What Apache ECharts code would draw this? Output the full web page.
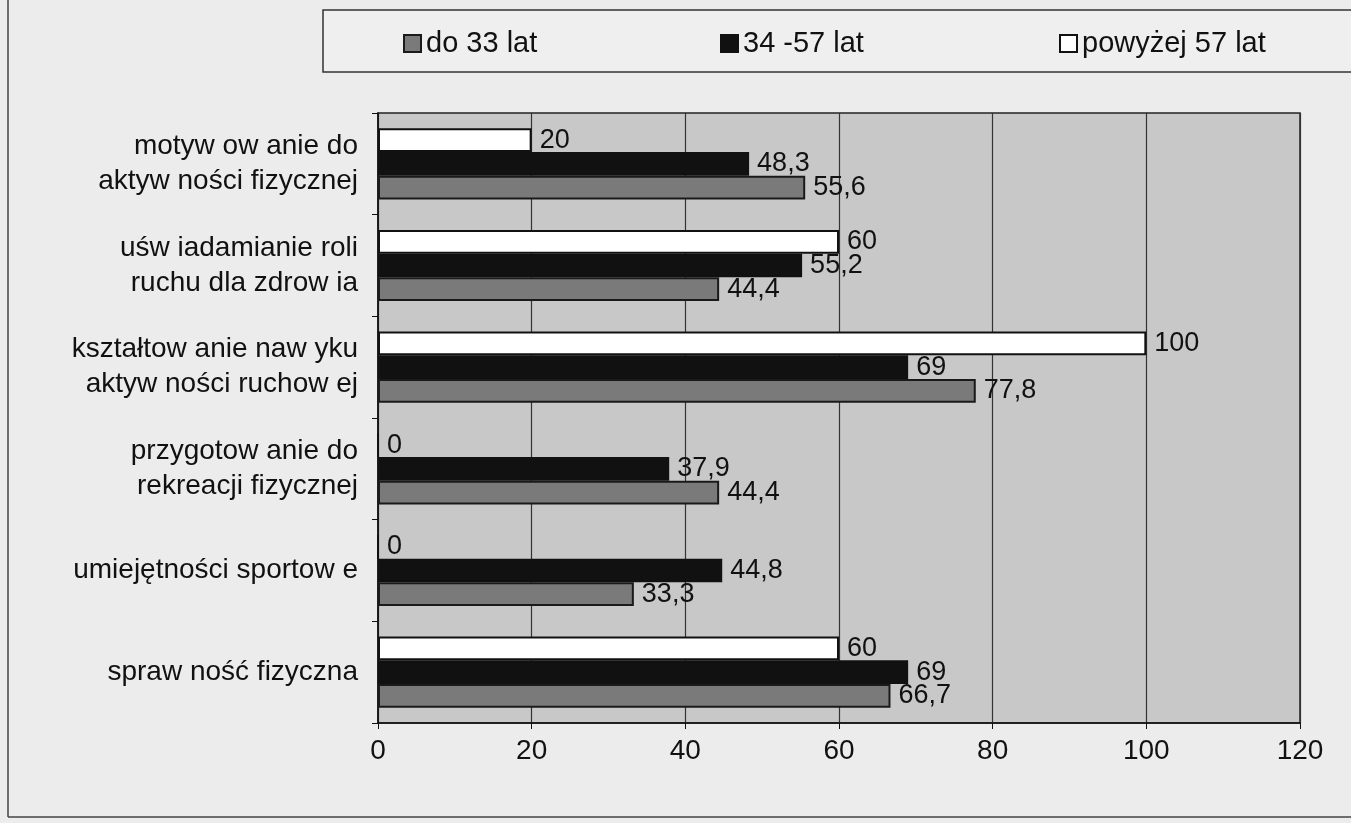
<!DOCTYPE html>
<html><head><meta charset="utf-8">
<script src="https://cdn.jsdelivr.net/npm/echarts@6/dist/echarts.min.js"></script>
<style>html,body{margin:0;padding:0;background:#ececec;}#c{width:1351px;height:823px;}</style>
</head><body><div id="c"></div>
<script>
const categories = ["motyw ow anie do\naktyw ności fizycznej","uśw iadamianie roli\nruchu dla zdrow ia","kształtow anie naw yku\naktyw ności ruchow ej","przygotow anie do\nrekreacji fizycznej","umiejętności sportow e","spraw ność fizyczna"];
const seriesNames = ["powyżej 57 lat","34 -57 lat","do 33 lat"];
const over57 = [20,60,100,0,0,60];
const age34to57 = [48.3,55.2,69,37.9,44.8,69];
const upto33 = [55.6,44.4,77.8,44.4,33.3,66.7];
const xTicks = [0,20,40,60,80,100,120];

const font = '"Liberation Sans", Arial, sans-serif';
const chart = echarts.init(document.getElementById('c'));
const lbl = {show:true, position:'right', distance:8, color:'#111', fontFamily:font, fontSize:27,
  formatter: p => String(p.value).replace('.', ',')};
function mk(name, data, color, border){
  return {name, type:'bar', data, barGap:'0%', barCategoryGap:'30%',
    itemStyle:{color, borderColor:border, borderWidth:2}, label:lbl, animation:false};
}
const legendBase = {top:24, itemWidth:17, itemHeight:17, textStyle:{fontFamily:font, fontSize:29, color:'#111'}, itemGap:4, selectedMode:false};
chart.setOption({
  backgroundColor:'#ececec',
  animation:false,
  graphic:[
    {type:'rect', shape:{x:323, y:10, width:1040, height:62}, style:{fill:'#efefef', stroke:'#333', lineWidth:1.5}},
    {type:'line', shape:{x1:8, y1:0, x2:8, y2:817}, style:{stroke:'#444', lineWidth:1.5}},
    {type:'line', shape:{x1:8, y1:817, x2:1351, y2:817}, style:{stroke:'#444', lineWidth:1.5}}
  ],
  legend:[
    Object.assign({}, legendBase, {left:398, data:[{name:'do 33 lat', icon:'rect'}]}),
    Object.assign({}, legendBase, {left:715, data:[{name:'34 -57 lat', icon:'rect'}]}),
    Object.assign({}, legendBase, {left:1054, data:[{name:'powyżej 57 lat', icon:'rect'}]})
  ],
  grid:{left:378, right:51, top:113, bottom:100, show:true, backgroundColor:'#c8c8c8', borderColor:'#222', borderWidth:1.5, containLabel:false},
  xAxis:{type:'value', min:0, max:120, interval:20,
    axisLine:{show:true, lineStyle:{color:'#111', width:1.5}},
    axisTick:{show:true, length:6, lineStyle:{color:'#111'}},
    splitLine:{show:true, lineStyle:{color:'#333', width:1.2}},
    axisLabel:{color:'#111', fontFamily:font, fontSize:28, margin:14,
      formatter: v => xTicks.includes(v) ? String(v) : ''}},
  yAxis:{type:'category', data:categories, inverse:true,
    axisLine:{show:true, lineStyle:{color:'#111', width:1.5}},
    axisTick:{show:true, length:6, lineStyle:{color:'#111'}},
    axisLabel:{color:'#111', fontFamily:font, fontSize:28, lineHeight:35, margin:20, align:'right'}},
  series:[
    mk(seriesNames[0], over57, '#ffffff', '#111'),
    mk(seriesNames[1], age34to57, '#111111', '#111'),
    mk(seriesNames[2], upto33, '#7a7a7a', '#1a1a1a')
  ]
});
</script></body></html>
